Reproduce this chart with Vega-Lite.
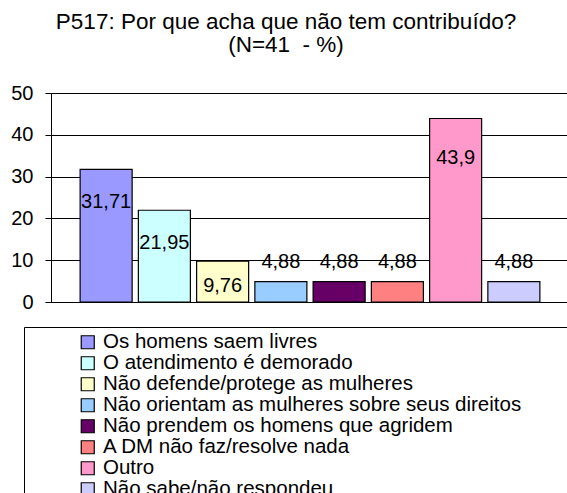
{
  "$schema": "https://vega.github.io/schema/vega-lite/v6.json",
  "width": 518,
  "height": 209,
  "autosize": {"type": "none"},
  "padding": {"left": 51, "top": 93, "right": 0, "bottom": 200},
  "background": "white",
  "config": {
    "font": "Liberation Sans",
    "view": {"stroke": null}
  },
  "title": {
    "text": ["P517: Por que acha que não tem contribuído?", "(N=41\u00a0 - %)"],
    "fontSize": 22.5,
    "fontWeight": "normal",
    "color": "black",
    "frame": "group",
    "anchor": "middle",
    "dx": -24,
    "baseline": "alphabetic",
    "offset": 9,
    "lineHeight": 23
  },
  "data": {
    "values": [
      {"cat": "Os homens saem livres", "value": 31.71, "label": "31,71"},
      {"cat": "O atendimento é demorado", "value": 21.95, "label": "21,95"},
      {"cat": "Não defende/protege as mulheres", "value": 9.76, "label": "9,76"},
      {"cat": "Não orientam as mulheres sobre seus direitos", "value": 4.88, "label": "4,88"},
      {"cat": "Não prendem os homens que agridem", "value": 4.88, "label": "4,88"},
      {"cat": "A DM não faz/resolve nada", "value": 4.88, "label": "4,88"},
      {"cat": "Outro", "value": 43.9, "label": "43,9"},
      {"cat": "Não sabe/não respondeu", "value": 4.88, "label": "4,88"}
    ]
  },
  "encoding": {
    "x": {
      "field": "cat",
      "type": "nominal",
      "sort": null,
      "scale": {"paddingInner": 0.107, "paddingOuter": 0.5},
      "axis": {"labels": false, "ticks": false, "title": null, "domain": true, "domainColor": "black", "domainWidth": 1, "grid": false}
    },
    "y": {
      "field": "value",
      "type": "quantitative",
      "scale": {"domain": [0, 50], "nice": false},
      "axis": {
        "values": [0, 10, 20, 30, 40, 50],
        "title": null,
        "grid": true,
        "gridColor": "black",
        "gridWidth": 1,
        "gridOpacity": 1,
        "domainColor": "black",
        "domainWidth": 1,
        "tickColor": "black",
        "tickSize": 6,
        "tickWidth": 1,
        "labelFontSize": 20,
        "labelColor": "black",
        "labelPadding": 12
      }
    }
  },
  "layer": [
    {
      "mark": {"type": "bar", "stroke": "black", "strokeWidth": 1.2},
      "encoding": {
        "color": {
          "field": "cat",
          "type": "nominal",
          "sort": null,
          "scale": {
            "domain": [
              "Os homens saem livres",
              "O atendimento é demorado",
              "Não defende/protege as mulheres",
              "Não orientam as mulheres sobre seus direitos",
              "Não prendem os homens que agridem",
              "A DM não faz/resolve nada",
              "Outro",
              "Não sabe/não respondeu"
            ],
            "range": ["#9999FF", "#CCFFFF", "#FFFFCC", "#99CCFF", "#660066", "#FF8080", "#FF99CC", "#CCCCFF"]
          },
          "legend": {
            "orient": "none",
            "legendX": -27,
            "legendY": 234,
            "direction": "vertical",
            "title": "\u200b\u00a0\u00a0\u00a0\u00a0\u00a0\u00a0\u00a0\u00a0\u00a0\u00a0\u00a0\u00a0\u00a0\u00a0\u00a0\u00a0\u00a0\u200b",
            "titleOrient": "left",
            "titleFontSize": 10,
            "titlePadding": 0.5,
            "padding": 5,
            "strokeColor": "black",
            "fillColor": "white",
            "symbolType": "square",
            "symbolSize": 169,
            "symbolStrokeColor": "black",
            "symbolStrokeWidth": 1.2,
            "symbolOpacity": 1,
            "labelFontSize": 20.5,
            "labelColor": "black",
            "labelOffset": 5,
            "labelLimit": 0,
            "rowPadding": -0.7,
            "labelExpr": "datum.label + '\u00a0\u00a0\u00a0\u00a0\u00a0\u00a0\u00a0\u00a0\u00a0\u00a0\u00a0\u00a0\u00a0\u00a0\u00a0\u00a0\u00a0\u00a0\u00a0\u00a0\u00a0\u00a0\u00a0\u00a0\u00a0\u00a0\u00a0\u00a0\u00a0\u00a0\u00a0\u00a0\u00a0\u00a0\u00a0\u00a0\u00a0\u00a0\u00a0\u00a0\u200b'"
          }
        }
      }
    },
    {
      "transform": [{"filter": "datum.value > 20 && datum.value < 40"}],
      "mark": {"type": "text", "fontSize": 20, "color": "black", "baseline": "middle", "dy": 33},
      "encoding": {"text": {"field": "label"}}
    },
    {
      "transform": [{"filter": "datum.value > 9 && datum.value < 10"}],
      "mark": {"type": "text", "fontSize": 20, "color": "black", "baseline": "middle", "dy": 25},
      "encoding": {"text": {"field": "label"}}
    },
    {
      "transform": [{"filter": "datum.value > 40"}],
      "mark": {"type": "text", "fontSize": 20, "color": "black", "baseline": "middle", "dy": 40},
      "encoding": {"text": {"field": "label"}}
    },
    {
      "transform": [{"filter": "datum.value < 5"}],
      "mark": {"type": "text", "fontSize": 20, "color": "black", "baseline": "middle", "dy": -20},
      "encoding": {"text": {"field": "label"}}
    }
  ]
}
